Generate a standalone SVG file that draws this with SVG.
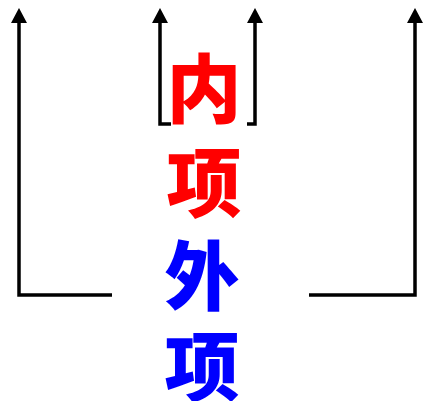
<svg xmlns="http://www.w3.org/2000/svg" width="424" height="401" viewBox="0 0 424 401">
<style>
.ln{fill:none;stroke:#000;stroke-width:3.5;stroke-linejoin:miter}
.t{font-family:"Noto Sans CJK SC","Noto Sans CJK JP",sans-serif;font-weight:900;font-size:75px;text-anchor:middle;dominant-baseline:central}
.r{fill:#FF0000}
.b{fill:#0000FF}
</style>
<g id="connectors">
<path class="ln" d="M112,295 H19 V22"/>
<polygon points="19,8 11,23 27,23" fill="#000"/>
<path class="ln" d="M309,295 H415 V22"/>
<polygon points="415,8 407,23 423,23" fill="#000"/>
<path class="ln" d="M171,124 H160 V22"/>
<polygon points="160,8 152,23 168,23" fill="#000"/>
<path class="ln" d="M247,124 H255 V22"/>
<polygon points="255,8 247,23 263,23" fill="#000"/>
</g>
<g id="nei"><text class="t r" x="204" y="84">内</text></g>
<g id="xiang1"><text class="t r" x="204" y="178">项</text></g>
<g id="wai"><text class="t b" x="202" y="271">外</text></g>
<g id="xiang2"><text class="t b" x="202" y="362">项</text></g>
</svg>
